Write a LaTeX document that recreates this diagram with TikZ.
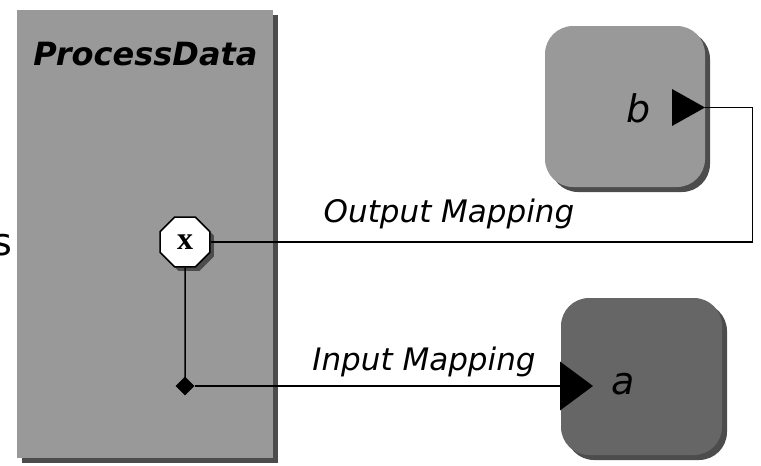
\documentclass[tikz,border=0pt]{standalone}
\usepackage{fontspec}
\setmainfont{DejaVu Sans}
\newfontfamily\xfont{Liberation Serif}
\usetikzlibrary{shapes.geometric,shadows}
\tikzset{%
  sh/.style={drop shadow={opacity=1,fill=black!70,shadow xshift=5pt,shadow yshift=-5pt}},
  proc/.style={fill=black!40,sh,inner sep=0pt,minimum width=256pt,minimum height=448pt},
  ebox/.style={sh,rounded corners=28pt,inner sep=0pt},
  oct/.style={regular polygon,regular polygon sides=8,minimum size=54pt,inner sep=0pt,
    draw,line width=1.6pt,fill=white,
    drop shadow={opacity=1,fill=black!70,shadow xshift=4pt,shadow yshift=-4pt}},
  junc/.style={diamond,fill=black,inner sep=0pt,minimum size=19pt},
  wire/.style={line width=1.5pt},
  lbl/.style={inner sep=0pt,anchor=base,font=\fontsize{31}{36}\selectfont\itshape},
  var/.style={inner sep=0pt,anchor=base,font=\fontsize{38}{44}\selectfont\itshape}
}
\begin{document}
\begin{tikzpicture}[x=1pt,y=-1pt]
  \useasboundingbox (0,0) rectangle (761,466);

  \node[proc] (pd) at (145,234) {};
  \node[inner sep=0pt,anchor=base,font=\fontsize{32}{38}\selectfont\bfseries\itshape] (pdname) at (145.5,65) {ProcessData};
  \node[inner sep=0pt,anchor=base east,font=\fontsize{38}{44}\selectfont] (s) at (12,255) {s};

  \node[ebox,fill=black!40,minimum width=160pt,minimum height=161pt] (b) at (625,106.5) {};
  \node[ebox,fill=black!60,minimum width=161pt,minimum height=157pt] (a) at (641.5,376.5) {};
  \node[var] (bname) at (638.5,122) {b};
  \node[var] (aname) at (623,394) {a};

  \coordinate (bport) at (705,107.5);
  \coordinate (aport) at (560,386);
  \fill (bport) -- ++(-33,-18.5) -- ++(0,37) -- cycle;
  \fill (aport) ++(0,-24.5) -- ++(33,24.5) -- ++(-33,24.5) -- cycle;

  \node[oct] (x) at (185,242) {\xfont\fontsize{32}{38}\selectfont\bfseries x};
  \node[junc] (j) at (185,386) {};

  \draw[wire] (bport) -- ++(47.5,0) |- (x.east);
  \draw[wire] (x.south) -- (j.center);
  \draw[wire] (j) -- (aport);

  \node[lbl] (outmap) at (449,222) {Output Mapping};
  \node[lbl] (inmap) at (424,370) {Input Mapping};
\end{tikzpicture}
\end{document}
